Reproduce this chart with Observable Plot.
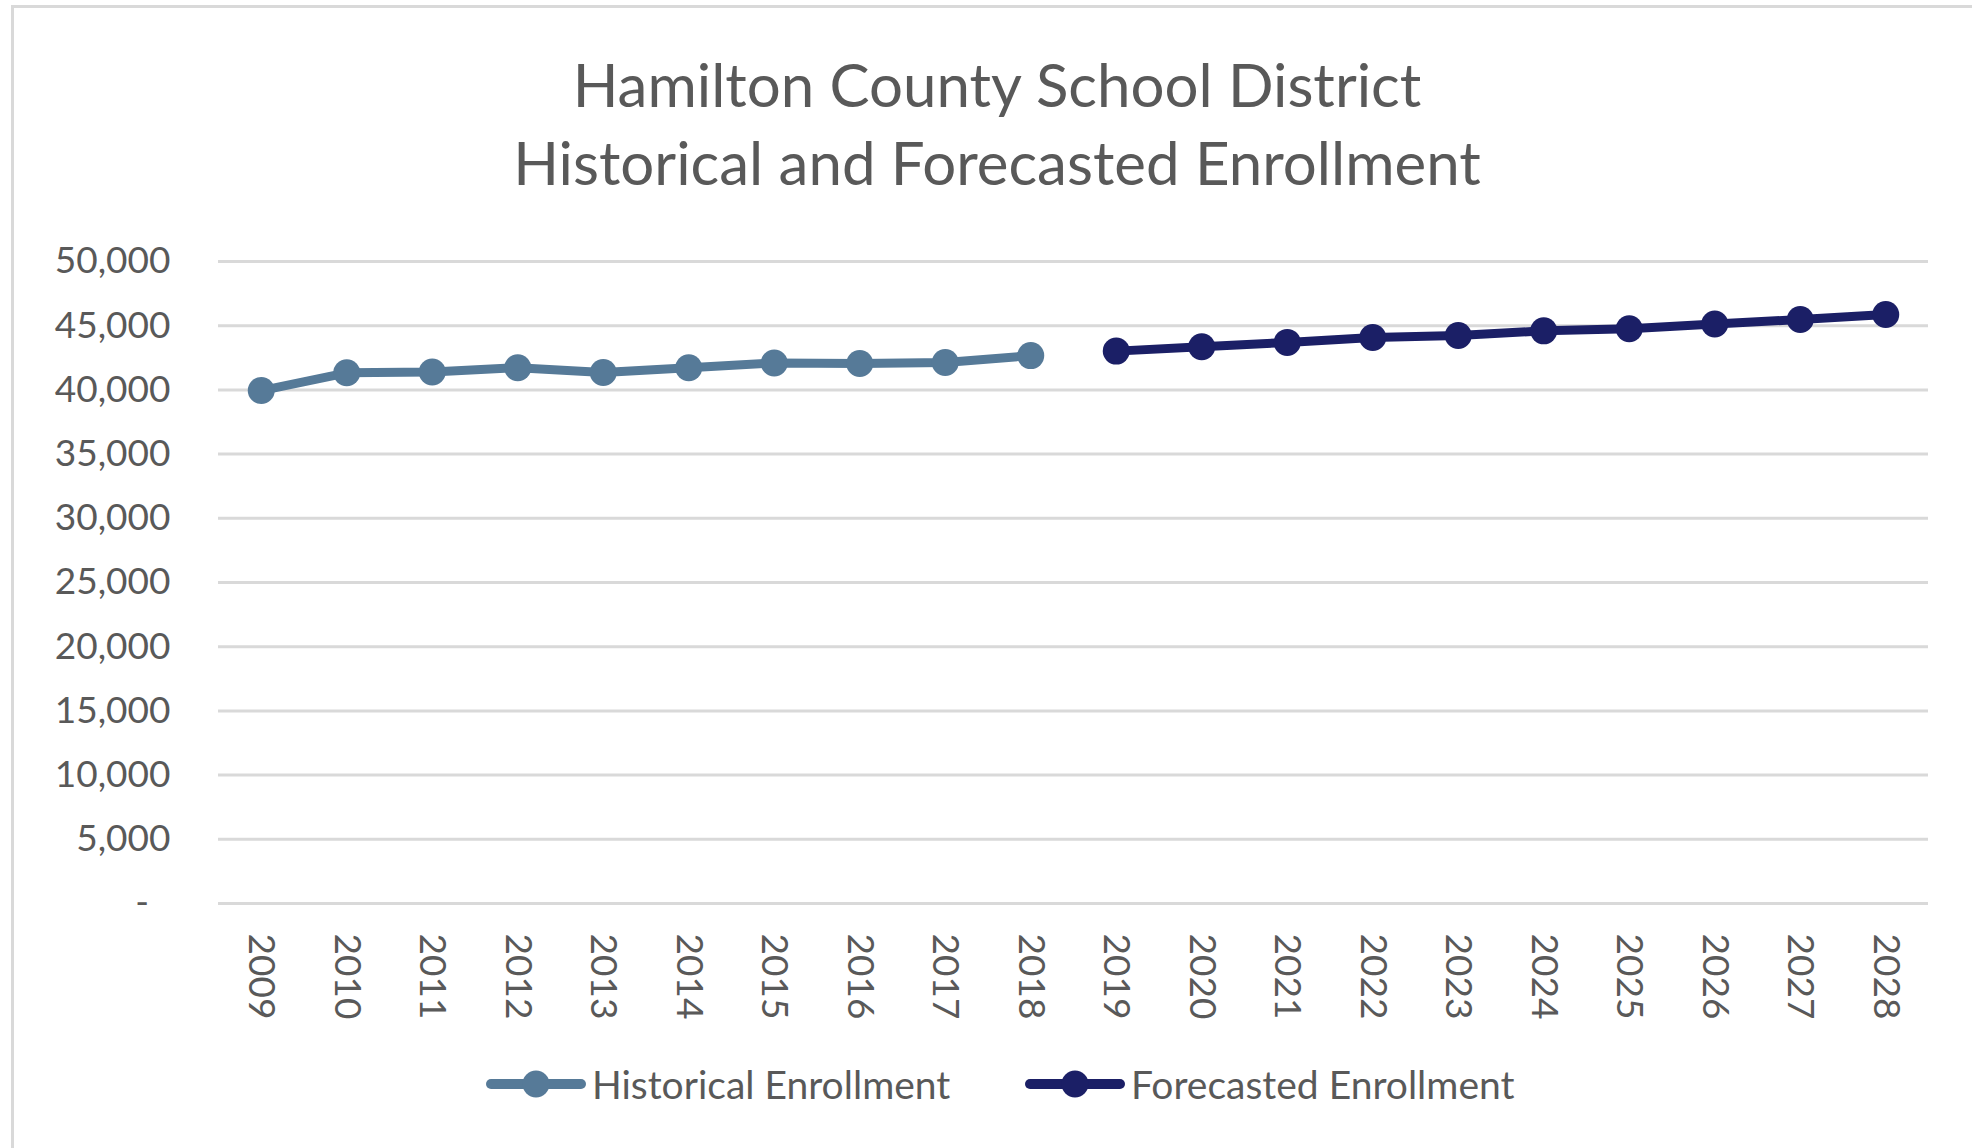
<!DOCTYPE html>
<html>
<head>
<meta charset="utf-8">
<script src="https://cdn.jsdelivr.net/npm/d3@7"></script>
<script src="https://cdn.jsdelivr.net/npm/@observablehq/plot@0.6"></script>
<style>
  html, body { margin: 0; padding: 0; background: #fff; overflow: hidden; width: 1972px; height: 1148px; }
  body { position: relative; font-family: Lato, "Open Sans", sans-serif; color: #595959; }
  #frame { position: absolute; left: 11px; top: 5px; width: 1990px; height: 1170px; border: 3px solid #d9d9d9; box-sizing: border-box; }
  .title { position: absolute; left: 12px; width: 1970px; text-align: center; font-size: 60px; line-height: 76px; color: #595959; white-space: nowrap; }
  #chart { position: absolute; left: 0; top: 221px; }
  .legend-item { position: absolute; top: 1064px; height: 40px; display: flex; align-items: center; font-size: 39px; color: #595959; white-space: nowrap; }
  .legend-item svg { margin-right: 6px; }
</style>
</head>
<body>
<div id="frame"></div>
<div class="title" id="t1" style="top:46px"></div>
<div class="title" id="t2" style="top:124px"></div>
<div id="chart"></div>
<div class="legend-item" id="leg1" style="left:486px"></div>
<div class="legend-item" id="leg2" style="left:1025px"></div>
<script>
const titleLines = ["Hamilton County School District", "Historical and Forecasted Enrollment"];
const years = ["2009","2010","2011","2012","2013","2014","2015","2016","2017","2018",
               "2019","2020","2021","2022","2023","2024","2025","2026","2027","2028"];
const historicalYears = years.slice(0, 10);
const forecastYears = years.slice(10);
const historical = [39950, 41330, 41390, 41730, 41350, 41730, 42090, 42050, 42130, 42670];
const forecast = [43020, 43360, 43700, 44075, 44235, 44600, 44760, 45130, 45480, 45870];
const yTicks = [0, 5000, 10000, 15000, 20000, 25000, 30000, 35000, 40000, 45000, 50000];
const seriesNames = ["Historical Enrollment", "Forecasted Enrollment"];
const colors = ["#567a98", "#1b1f66"];

document.getElementById("t1").textContent = titleLines[0];
document.getElementById("t2").textContent = titleLines[1];

const hist = historicalYears.map((y, i) => ({year: y, value: historical[i]}));
const fore = forecastYears.map((y, i) => ({year: y, value: forecast[i]}));

const chart = Plot.plot({
  width: 1972,
  height: 813,
  marginLeft: 218,
  marginRight: 44,
  marginTop: 40,
  marginBottom: 131,
  style: {fontFamily: "Lato, 'Open Sans', sans-serif", fontSize: "37px", color: "#595959", background: "transparent", overflow: "visible"},
  x: {type: "point", domain: years, padding: 0.5, round: false, label: null},
  y: {domain: [0, 50000], label: null},
  marks: [
    Plot.gridY(yTicks, {stroke: "#d9d9d9", strokeOpacity: 1, strokeWidth: 3}),
    Plot.axisY(yTicks, {tickSize: 0, tickPadding: 48, label: null, fill: "#595959",
      tickFormat: d => d === 0 ? "-\u2007" : d3.format(",")(d)}),
    Plot.axisX({tickSize: 0, tickRotate: 90, tickPadding: 30, label: null, fill: "#595959"}),
    Plot.line(hist, {x: "year", y: "value", stroke: colors[0], strokeWidth: 9}),
    Plot.dot(hist, {x: "year", y: "value", r: 13.5, fill: colors[0], stroke: "none"}),
    Plot.line(fore, {x: "year", y: "value", stroke: colors[1], strokeWidth: 9}),
    Plot.dot(fore, {x: "year", y: "value", r: 13.5, fill: colors[1], stroke: "none"})
  ]
});
document.getElementById("chart").appendChild(chart);

function swatch(color) {
  const ns = "http://www.w3.org/2000/svg";
  const s = document.createElementNS(ns, "svg");
  s.setAttribute("width", 100); s.setAttribute("height", 30);
  const l = document.createElementNS(ns, "line");
  l.setAttribute("x1", 5); l.setAttribute("x2", 95); l.setAttribute("y1", 15); l.setAttribute("y2", 15);
  l.setAttribute("stroke", color); l.setAttribute("stroke-width", 10); l.setAttribute("stroke-linecap", "round");
  const c = document.createElementNS(ns, "circle");
  c.setAttribute("cx", 50); c.setAttribute("cy", 15); c.setAttribute("r", 13.5); c.setAttribute("fill", color);
  s.appendChild(l); s.appendChild(c);
  return s;
}
["leg1", "leg2"].forEach((id, i) => {
  const el = document.getElementById(id);
  el.appendChild(swatch(colors[i]));
  const sp = document.createElement("span");
  sp.textContent = seriesNames[i];
  el.appendChild(sp);
});
</script>
</body>
</html>
